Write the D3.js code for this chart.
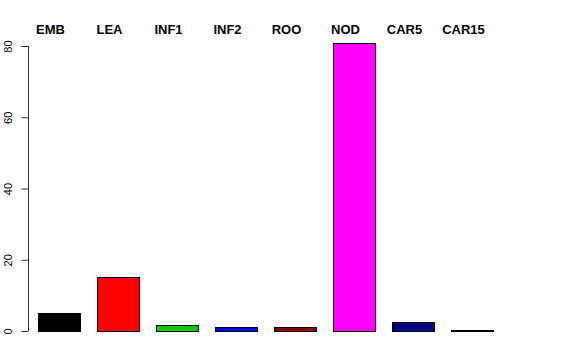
<!DOCTYPE html>
<html>
<head>
  <style type="text/css">
    body { margin: 0; background: #fff; }
    .bars rect { stroke: #000; stroke-width: 1px; }
    .labels text { font-family: "Liberation Sans", Arial, sans-serif; font-weight: bold; font-size: 13px; }
    .axis text { font-family: "Liberation Sans", Arial, sans-serif; font-size: 11px; }
  </style>
</head>
<body>
<svg></svg>
<script src="https://d3js.org/d3.v7.min.js"></script>
<script>
    var width = 576;
    var height = 360;

    // data
    var categories = ['EMB', 'LEA', 'INF1', 'INF2', 'ROO', 'NOD', 'CAR5', 'CAR15'];
    var values = [5.0, 15.2, 1.8, 1.1, 1.1, 80.8, 2.4, 0.3];
    var colors = ['#000000', '#ff0000', '#00cd00', '#0000ff', '#8b0000', '#ff00ff', '#000080', '#000000'];
    var yTicks = [0, 20, 40, 60, 80];

    var svg = d3.select('svg')
      .attr('width', width)
      .attr('height', height);

    var x = d3.scaleBand()
      .domain(categories)
      .range([30, 502])
      .paddingInner(0.288)
      .paddingOuter(0.144);

    var y = d3.scaleLinear()
      .domain([0, 80])
      .range([331, 46]);

    svg.append('g')
      .attr('class', 'bars')
      .selectAll('rect')
      .data(categories)
      .enter()
      .append('rect')
      .attr('x', function(d) { return Math.round(x(d)) + 0.5; })
      .attr('y', function(d, i) { return Math.round(y(values[i])) + 0.5; })
      .attr('width', Math.round(x.bandwidth()))
      .attr('height', function(d, i) { return Math.max(0, Math.round(y(0)) - Math.round(y(values[i]))); })
      .attr('fill', function(d, i) { return colors[i]; });

    // category names along the top
    svg.append('g')
      .attr('class', 'labels')
      .selectAll('text')
      .data(categories)
      .enter()
      .append('text')
      .attr('x', function(d) { return x(d) + x.bandwidth() / 2 - 9; })
      .attr('y', 34)
      .attr('text-anchor', 'middle')
      .text(function(d) { return d; });

    // y axis, R style: rotated tick labels
    var yAxis = svg.append('g')
      .attr('class', 'axis')
      .attr('transform', 'translate(28.5,0)')
      .call(d3.axisLeft(y).tickValues(yTicks).tickSize(7).tickPadding(0));
    yAxis.select('.domain').attr('d', 'M0,' + y(80) + 'V' + y(0)).attr('stroke', '#333');
    yAxis.selectAll('.tick line').attr('stroke', '#333');
    yAxis.selectAll('.tick text')
      .attr('x', null)
      .attr('dy', null)
      .attr('text-anchor', 'middle')
      .attr('transform', 'translate(-16.5,0) rotate(-90)')
      .attr('fill', '#000');
  </script>
</body>
</html>
